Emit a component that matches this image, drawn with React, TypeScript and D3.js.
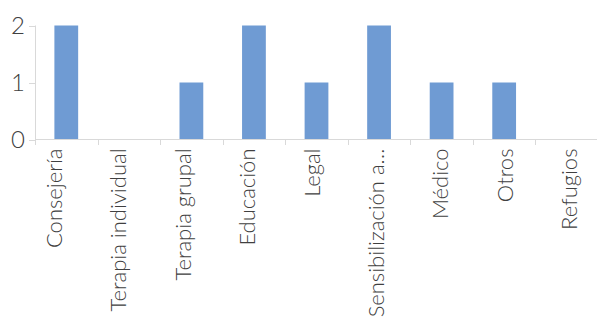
import React from "react";
import * as d3 from "d3";

const categories = [
  "Consejería",
  "Terapia individual",
  "Terapia grupal",
  "Educación",
  "Legal",
  "Sensibilización a…",
  "Médico",
  "Otros",
  "Refugios",
];
const values = [2, 0, 1, 2, 1, 2, 1, 1, 0];
const yTicks = [0, 1, 2];

const W = 597;
const H = 321;
const FONT = "'Gill Sans', 'Gill Sans MT', Lato, sans-serif";

export default function App() {
  const x = d3
    .scaleBand<string>()
    .domain(categories)
    .range([35, 598])
    .paddingInner(0.62)
    .paddingOuter(0.31);
  const xb = d3.scaleBand<string>().domain(categories).range([35, 598]);
  // label baselines (rotated text) drift slightly from tick centers in the reference
  const xl = d3.scalePoint<string>().domain(categories).range([62, 577]);
  const y = d3.scaleLinear().domain([0, 2]).range([139.5, 25.5]);
  const axisColor = "#d9d9d9";
  const textColor = "#404040";

  return (
    <svg
      width={W}
      height={H}
      style={{ position: "absolute", left: 0, top: 0, background: "#fff" }}
    >
      {values.map((v, i) => (
        <rect
          key={i}
          x={x(categories[i])!}
          width={x.bandwidth()}
          y={y(v)}
          height={y(0) - y(v)}
          fill="#6f9bd3"
        />
      ))}
      <line x1={35.5} x2={35.5} y1={y(2)} y2={y(0)} stroke={axisColor} />
      {yTicks.map((t) => (
        <g key={t}>
          <line x1={29} x2={35.5} y1={Math.round(y(t)) + 0.5} y2={Math.round(y(t)) + 0.5} stroke={axisColor} />
          <text
            x={25}
            y={y(t)}
            dy="0.36em"
            textAnchor="end"
            fontFamily={FONT}
            fontSize={24}
            fontWeight={300}
            fill={textColor}
          >
            {t}
          </text>
        </g>
      ))}
      <line x1={35} x2={598} y1={139.5} y2={139.5} stroke={axisColor} />
      {categories.map((c, i) => (
        <line
          key={"t" + i}
          x1={Math.round(xb(c)!) + 0.5}
          x2={Math.round(xb(c)!) + 0.5}
          y1={139.5}
          y2={145}
          stroke={axisColor}
        />
      ))}
      {categories.map((c) => (
        <text
          key={c}
          transform={`translate(${xl(c)},148.5) rotate(-90)`}
          textAnchor="end"
          fontFamily={FONT}
          fontSize={22}
          fontWeight={300}
          fill={textColor}
        >
          {c}
        </text>
      ))}
    </svg>
  );
}
